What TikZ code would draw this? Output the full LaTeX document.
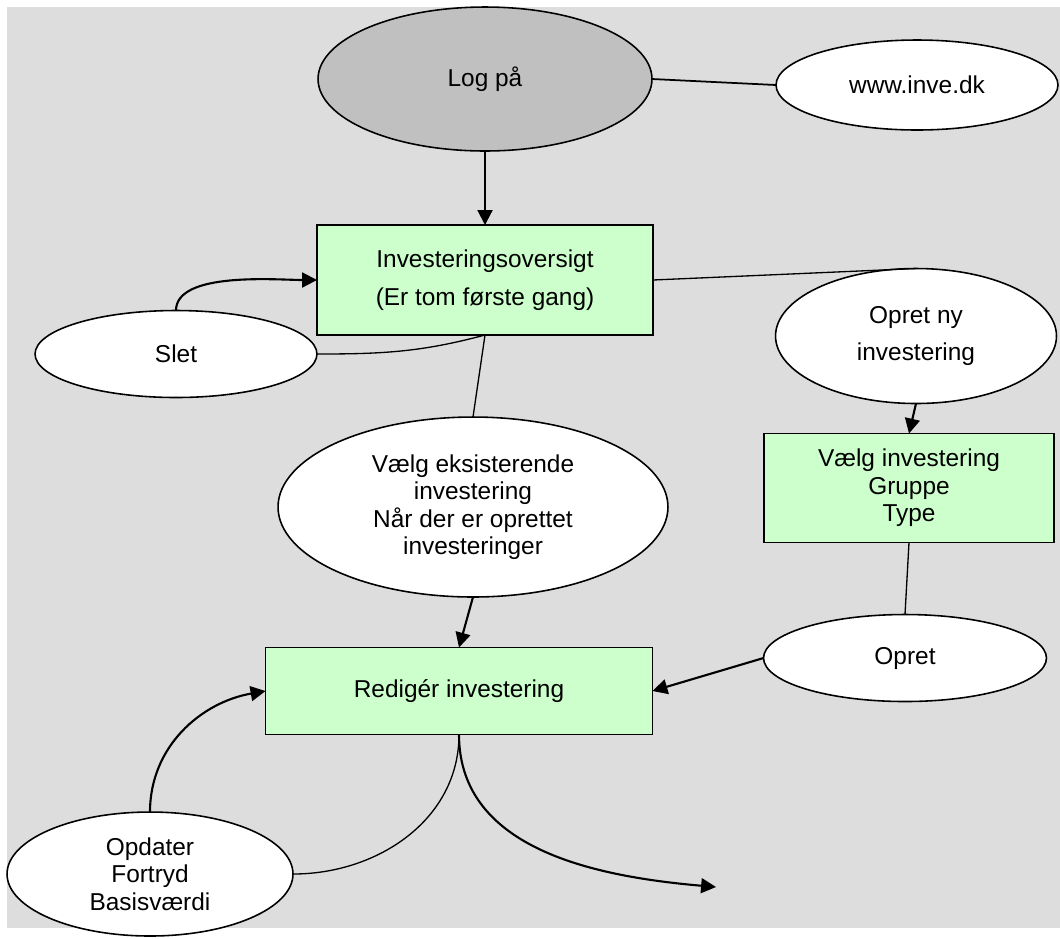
\documentclass[tikz,border=0pt]{standalone}
\usepackage{fontspec}
\setmainfont{Liberation Sans}
\usepackage{tikz}
\usetikzlibrary{arrows.meta}
\usetikzlibrary{shapes.geometric}
\usetikzlibrary{positioning}

\definecolor{bggray}{HTML}{DDDDDD}
\definecolor{logingray}{HTML}{C0C0C0}
\definecolor{boxgreen}{HTML}{CCFFCC}

\tikzset{
    oval/.style={ellipse, draw, line width=0.9pt, fill=white, inner sep=0pt, outer sep=0pt,
        align=center, font=\fontsize{13.9}{15.6}\selectfont},
    screen/.style={rectangle, draw, line width=0.9pt, fill=boxgreen, inner sep=0pt, outer sep=0pt,
        align=center, font=\fontsize{13.9}{15.6}\selectfont},
    wide/.style={font=\fontsize{13.9}{21.6}\selectfont},
    link/.style={line width=0.75pt},
    flow/.style={line width=1.2pt, -{Triangle[length=8.5pt,width=8.5pt]}},
}

\begin{document}
\begin{tikzpicture}[x=0.02cm, y=-0.02cm]
    \useasboundingbox (0,0) rectangle (1060,938);
    \fill[bggray] (7,7) rectangle (1060,928);

    \node[oval, fill=logingray, minimum width=6.68cm, minimum height=2.88cm] (logpa) at (485,79) {Log på};
    \node[oval, minimum width=5.64cm, minimum height=1.8cm] (www) at (917,85) {www.inve.dk};

    \node[screen, wide, minimum width=6.72cm, minimum height=2.2cm] (oversigt) at (485,280)
        {Investeringsoversigt\\(Er tom første gang)};
    \node[oval, minimum width=5.64cm, minimum height=1.74cm] (slet) at (176,354) {Slet};
    \node[oval, wide, minimum width=5.62cm, minimum height=2.7cm] (opretny) at (916,336)
        {Opret ny\\investering};

    \node[oval, minimum width=7.8cm, minimum height=3.6cm] (vaelgeks) at (473,507)
        {Vælg eksisterende\\investering\\Når der er oprettet\\investeringer};
    \node[screen, minimum width=5.8cm, minimum height=2.18cm] (vaelginv) at (909,488)
        {Vælg investering\\Gruppe\\Type};
    \node[oval, minimum width=5.66cm, minimum height=1.74cm] (opret) at (905,658) {Opret};

    \node[screen, minimum width=7.74cm, minimum height=1.74cm] (redig) at (459,691) {Redigér investering};
    \node[oval, minimum width=5.72cm, minimum height=2.48cm] (opdater) at (150,874)
        {Opdater\\Fortryd\\Basisværdi};
    \coordinate (exit) at (716,887);

    % login
    \draw[link, line width=1pt] (logpa.east) -- (www.west);
    \draw[flow] (logpa.south) -- (oversigt.north);

    % oversigt
    \draw[flow] (slet.north) to[out=90, in=180, looseness=0.7] (oversigt.west);
    \draw[link] (slet.east) to[out=0, in=195] (oversigt.south);
    \draw[link] (oversigt.south) -- (vaelgeks.north);
    \draw[link] (oversigt.east) -- (opretny.north);

    % ny investering
    \draw[flow] (opretny.south) -- (vaelginv.north);
    \draw[link] (vaelginv.south) -- (opret.north);
    \draw[flow] (opret.west) -- (redig.east);

    % rediger
    \draw[flow] (vaelgeks.south) -- (redig.north);
    \draw[flow] (opdater.north) to[out=90, in=190] (redig.west);
    \draw[link] (opdater.east) to[out=0, in=270] (redig.south);
    \draw[flow] (redig.south) to[out=270, in=175] (exit);
\end{tikzpicture}
\end{document}
